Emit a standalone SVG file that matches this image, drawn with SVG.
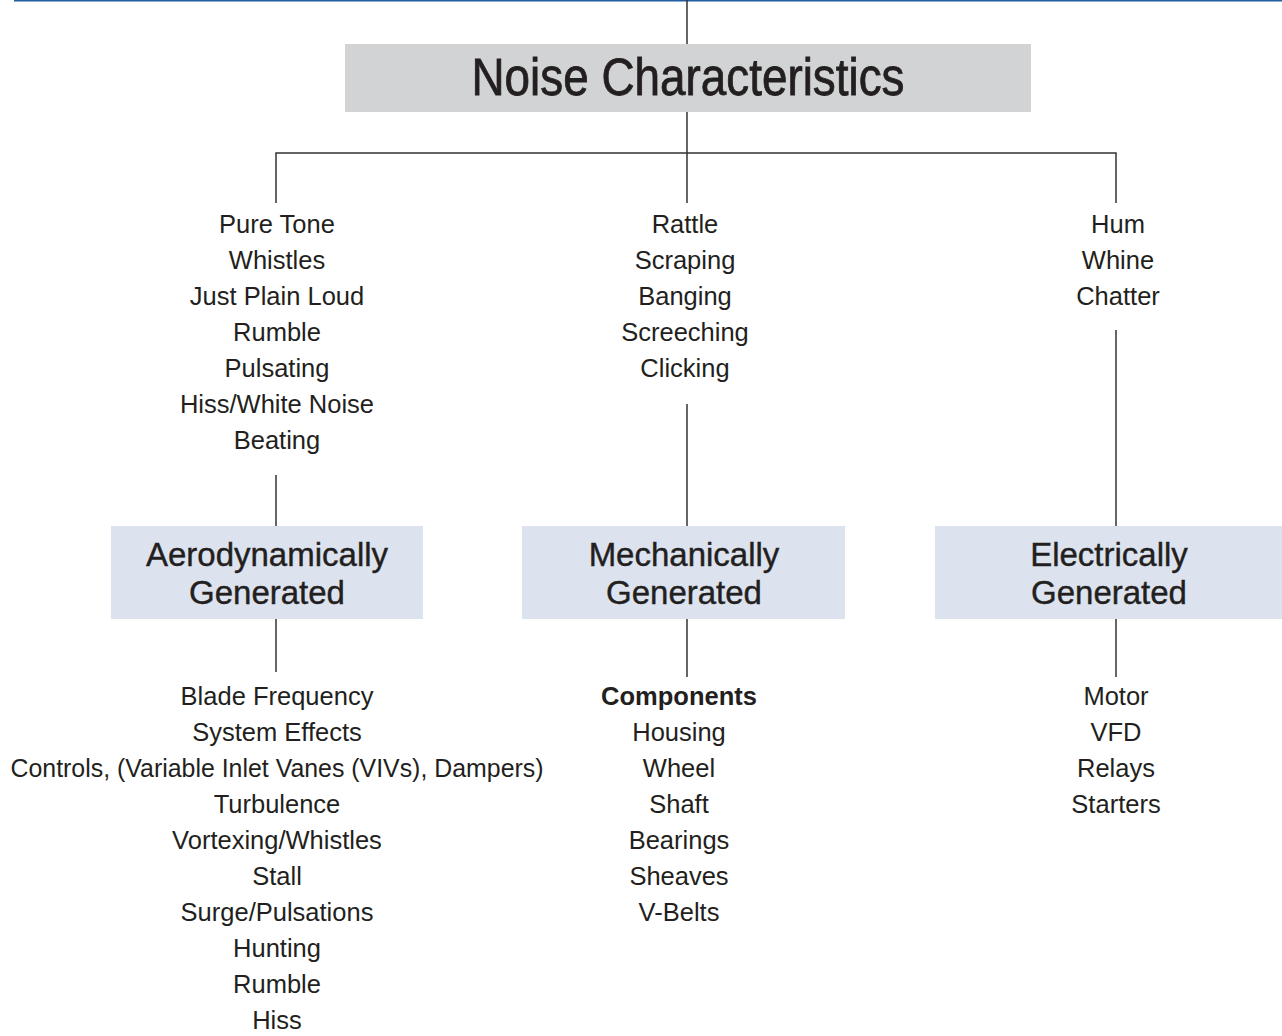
<svg xmlns="http://www.w3.org/2000/svg" width="1282" height="1036" viewBox="0 0 1282 1036">
<style>
.t{font-family:"Liberation Sans",Arial,sans-serif;fill:#231f20;text-anchor:middle}
.item{font-size:25.5px}
.hd{font-size:33px;stroke:#231f20;stroke-width:0.4}
.ln{stroke:#333;stroke-width:1.5;fill:none}
</style>
<rect width="1282" height="1036" fill="#fff"/>
<line x1="14" y1="0.5" x2="1282" y2="0.5" stroke="#1f5fa0" stroke-width="2"/>
<g id="connectors" class="ln">
<line x1="687" y1="0" x2="687" y2="44"/>
<line x1="687" y1="112" x2="687" y2="203"/>
<polyline points="276,203 276,153 1116,153 1116,203"/>
<line x1="276" y1="475" x2="276" y2="526"/>
<line x1="687" y1="404" x2="687" y2="526"/>
<line x1="1116" y1="330" x2="1116" y2="526"/>
<line x1="276" y1="619" x2="276" y2="672"/>
<line x1="687" y1="619" x2="687" y2="677"/>
<line x1="1116" y1="619" x2="1116" y2="677"/>
</g>
<g id="title">
<rect x="345" y="44" width="686" height="68" fill="#d1d3d4"/>
<text class="t" x="688" y="95" font-size="51" stroke="#231f20" stroke-width="0.8" textLength="433" lengthAdjust="spacingAndGlyphs">Noise Characteristics</text>
</g>
<g id="aero-top" class="t item">
<text x="277" y="233">Pure Tone</text>
<text x="277" y="269">Whistles</text>
<text x="277" y="305">Just Plain Loud</text>
<text x="277" y="341">Rumble</text>
<text x="277" y="377">Pulsating</text>
<text x="277" y="413">Hiss/White Noise</text>
<text x="277" y="449">Beating</text>
</g>
<g id="mech-top" class="t item">
<text x="685" y="233">Rattle</text>
<text x="685" y="269">Scraping</text>
<text x="685" y="305">Banging</text>
<text x="685" y="341">Screeching</text>
<text x="685" y="377">Clicking</text>
</g>
<g id="elec-top" class="t item">
<text x="1118" y="233">Hum</text>
<text x="1118" y="269">Whine</text>
<text x="1118" y="305">Chatter</text>
</g>
<g id="aero">
<rect x="111" y="526" width="312" height="93" fill="#dce3ef"/>
<text class="t hd" x="267" y="566">Aerodynamically</text>
<text class="t hd" x="267" y="604">Generated</text>
</g>
<g id="mech">
<rect x="522" y="526" width="323" height="93" fill="#dce3ef"/>
<text class="t hd" x="684" y="566">Mechanically</text>
<text class="t hd" x="684" y="604">Generated</text>
</g>
<g id="elec">
<rect x="935" y="526" width="347" height="93" fill="#dce3ef"/>
<text class="t hd" x="1109" y="566">Electrically</text>
<text class="t hd" x="1109" y="604">Generated</text>
</g>
<g id="aero-bottom" class="t item">
<text x="277" y="705">Blade Frequency</text>
<text x="277" y="741">System Effects</text>
<text x="277" y="777" textLength="533" lengthAdjust="spacingAndGlyphs">Controls, (Variable Inlet Vanes (VIVs), Dampers)</text>
<text x="277" y="813">Turbulence</text>
<text x="277" y="849">Vortexing/Whistles</text>
<text x="277" y="885">Stall</text>
<text x="277" y="921">Surge/Pulsations</text>
<text x="277" y="957">Hunting</text>
<text x="277" y="993">Rumble</text>
<text x="277" y="1029">Hiss</text>
</g>
<g id="mech-bottom" class="t item">
<text x="679" y="705" font-weight="bold">Components</text>
<text x="679" y="741">Housing</text>
<text x="679" y="777">Wheel</text>
<text x="679" y="813">Shaft</text>
<text x="679" y="849">Bearings</text>
<text x="679" y="885">Sheaves</text>
<text x="679" y="921">V-Belts</text>
</g>
<g id="elec-bottom" class="t item">
<text x="1116" y="705">Motor</text>
<text x="1116" y="741">VFD</text>
<text x="1116" y="777">Relays</text>
<text x="1116" y="813">Starters</text>
</g>
</svg>
